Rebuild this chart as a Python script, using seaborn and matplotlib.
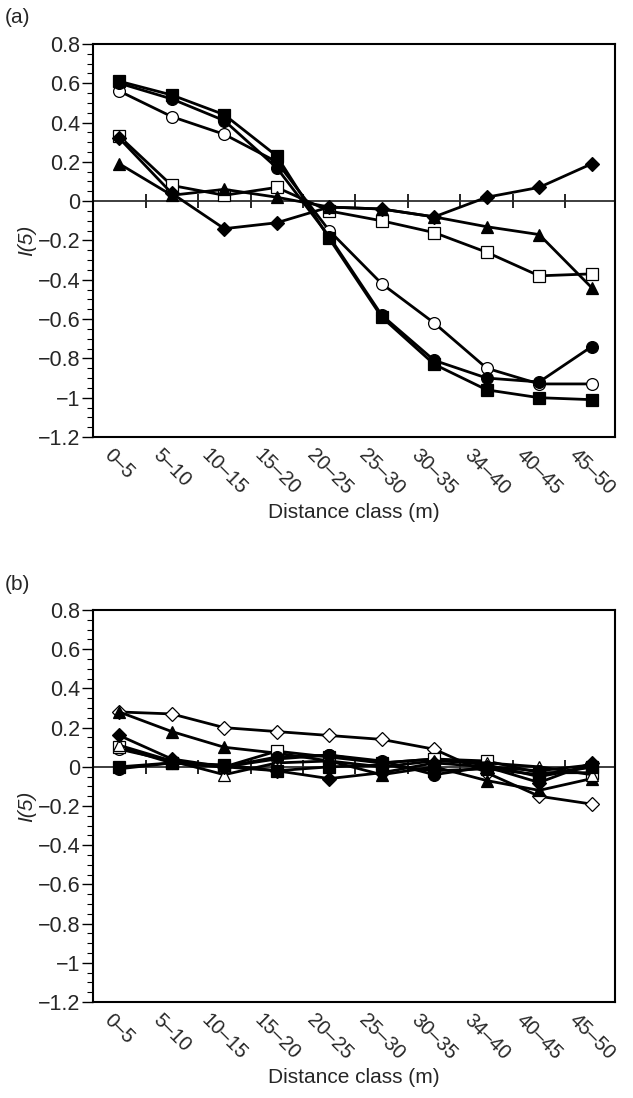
import numpy as np
import matplotlib
matplotlib.use('Agg')
import matplotlib.pyplot as plt
import seaborn as sns
from matplotlib.ticker import FuncFormatter, MultipleLocator

# distance classes (as printed on the original axis)
classes = ['0–5', '5–10', '10–15', '15–20', '20–25', '25–30', '30–35', '34–40', '40–45', '45–50']

# panel (a)
a_filled_square = [0.61, 0.54, 0.44, 0.23, -0.19, -0.59, -0.83, -0.96, -1.00, -1.01]
a_filled_circle = [0.60, 0.52, 0.41, 0.17, -0.18, -0.58, -0.81, -0.90, -0.92, -0.74]
a_open_circle = [0.56, 0.43, 0.34, 0.20, -0.15, -0.42, -0.62, -0.85, -0.93, -0.93]
a_open_square = [0.33, 0.08, 0.03, 0.07, -0.05, -0.10, -0.16, -0.26, -0.38, -0.37]
a_filled_diamond = [0.32, 0.04, -0.14, -0.11, -0.03, -0.04, -0.08, 0.02, 0.07, 0.19]
a_filled_triangle = [0.19, 0.03, 0.06, 0.02, -0.03, -0.04, -0.08, -0.13, -0.17, -0.44]

# panel (b)
b_open_diamond = [0.28, 0.27, 0.20, 0.18, 0.16, 0.14, 0.09, -0.03, -0.15, -0.19]
b_filled_triangle = [0.28, 0.18, 0.10, 0.07, 0.03, -0.04, 0.00, -0.07, -0.12, -0.06]
b_filled_diamond = [0.16, 0.04, 0.00, -0.02, -0.06, -0.03, 0.02, 0.00, -0.08, 0.02]
b_open_square = [0.10, 0.02, 0.00, 0.08, 0.05, 0.02, 0.04, 0.03, -0.03, -0.03]
b_open_triangle = [0.11, 0.03, -0.04, 0.02, 0.03, 0.00, 0.03, 0.02, 0.00, -0.04]
b_filled_square = [0.00, 0.02, 0.01, -0.02, 0.00, 0.01, -0.02, -0.01, -0.04, 0.00]
b_filled_circle = [-0.01, 0.02, 0.00, 0.05, 0.06, 0.03, -0.04, 0.00, -0.02, 0.01]
b_open_circle = [0.09, 0.03, 0.00, 0.04, 0.06, 0.02, 0.04, 0.01, -0.05, 0.00]

sns.set_theme(style='white')
plt.rcParams['font.family'] = ['Liberation Sans', 'DejaVu Sans']
plt.rcParams['axes.unicode_minus'] = True

FS = 15

fig = plt.figure(figsize=(6.33, 10.98), dpi=100)
ax_a = fig.add_axes([0.147, 0.602, 0.825, 0.358])
ax_b = fig.add_axes([0.147, 0.0874, 0.825, 0.357])

pos = np.arange(len(classes))

series_a = [
    (a_open_square, 's', False),
    (a_filled_diamond, 'D', True),
    (a_filled_triangle, '^', True),
    (a_open_circle, 'o', False),
    (a_filled_circle, 'o', True),
    (a_filled_square, 's', True),
]
series_b = [
    (b_open_diamond, 'D', False),
    (b_filled_triangle, '^', True),
    (b_open_circle, 'o', False),
    (b_open_square, 's', False),
    (b_open_triangle, '^', False),
    (b_filled_diamond, 'D', True),
    (b_filled_square, 's', True),
    (b_filled_circle, 'o', True),
]


def fmt(v, _):
    s = f'{v:g}'
    if s == '-0':
        s = '0'
    return s.replace('-', '\u2212')


def draw(ax, series):
    for vals, mk, filled in series:
        ms = 7 if mk == 'D' else 8.5
        sns.lineplot(x=pos, y=vals, ax=ax, color='black', lw=2.0, marker=mk,
                     markersize=ms, markerfacecolor='black' if filled else 'white',
                     markeredgecolor='black', markeredgewidth=0.9)
    ax.set_xlim(-0.5, 9.45)
    ax.set_ylim(-1.2, 0.8)
    for sp in ax.spines.values():
        sp.set_visible(True)
        sp.set_color('black')
        sp.set_linewidth(1.5)
    ax.yaxis.set_major_locator(MultipleLocator(0.2))
    ax.yaxis.set_minor_locator(MultipleLocator(0.05))
    ax.yaxis.set_major_formatter(FuncFormatter(fmt))
    ax.tick_params(axis='y', which='major', direction='out', length=8, width=1,
                   color='black', labelsize=FS + 0.5, left=True, pad=1)
    ax.tick_params(axis='y', which='minor', direction='out', length=4, width=0.8,
                   color='black', left=True)
    ax.set_xticks(pos)
    ax.set_xticklabels(classes, rotation=-45, ha='center', fontsize=FS - 0.5)
    ax.tick_params(axis='x', which='both', bottom=False, length=0, pad=6)
    ax.set_xlabel('Distance class (m)', fontsize=FS, labelpad=3)
    ax.set_ylabel('I(5)', fontsize=FS, style='italic', labelpad=1)
    # zero line with tick marks between the classes
    zero = ax.secondary_xaxis(0.6)
    zero.set_xticks(pos[:-1] + 0.5)
    zero.set_xticklabels([])
    zero.tick_params(direction='inout', length=10, width=1.2, color='black')
    zero.spines['bottom'].set_linewidth(1.5)
    zero.spines['bottom'].set_color('black')


draw(ax_a, series_a)
draw(ax_b, series_b)

fig.text(0.008, 0.984, '(a)', fontsize=FS, va='center')
fig.text(0.008, 0.468, '(b)', fontsize=FS, va='center')

fig.savefig('out.png', dpi=100)
